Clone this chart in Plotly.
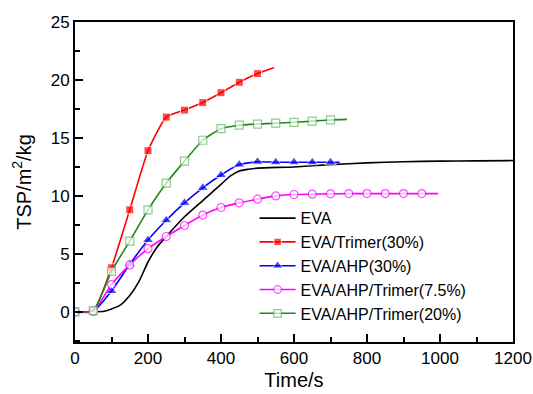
import plotly.graph_objects as go

# EVA
eva_x = [0, 50, 80, 100, 125, 150, 175, 200, 225, 250, 300, 350, 400, 425, 450, 475, 500, 600, 700, 800, 900, 1000, 1100, 1200]
eva_y = [0, 0, 0.05, 0.25, 0.6, 1.4, 2.6, 4.3, 5.6, 6.5, 8.2, 9.6, 11.0, 11.7, 12.15, 12.3, 12.4, 12.5, 12.7, 12.85, 12.95, 13.0, 13.02, 13.05]

# EVA/Trimer(30%)
tri_x = [0, 50, 100, 150, 200, 250, 300, 350, 400, 450, 500, 545]
tri_y = [0, 0.05, 3.8, 8.8, 13.9, 16.8, 17.4, 18.05, 18.9, 19.8, 20.55, 21.05]

# EVA/AHP(30%)
ahp_x = [0, 50, 100, 150, 200, 250, 300, 350, 400, 450, 500, 550, 600, 650, 700, 725]
ahp_y = [0, 0.05, 1.8, 4.1, 6.2, 7.9, 9.4, 10.7, 11.8, 12.7, 12.95, 12.9, 12.9, 12.9, 12.9, 12.9]

# EVA/AHP/Trimer(7.5%)
t75_x = [0, 50, 100, 150, 200, 250, 300, 350, 400, 450, 500, 550, 600, 650, 700, 750, 800, 850, 900, 950, 995]
t75_y = [0, 0.05, 2.35, 4.05, 5.45, 6.5, 7.45, 8.35, 9.0, 9.4, 9.72, 10.0, 10.12, 10.15, 10.18, 10.2, 10.2, 10.2, 10.2, 10.2, 10.2]

# EVA/AHP/Trimer(20%)
t20_x = [0, 50, 100, 150, 200, 250, 300, 350, 400, 450, 500, 550, 600, 650, 700, 745]
t20_y = [0, 0.1, 3.5, 6.1, 8.8, 11.1, 13.0, 14.8, 15.8, 16.1, 16.2, 16.27, 16.35, 16.45, 16.55, 16.6]

x_ticks = [0, 200, 400, 600, 800, 1000, 1200]
y_ticks = [0, 5, 10, 15, 20, 25]

FONT = "Liberation Sans, Arial, sans-serif"

def sizes(n, s):
    return [s] * (n - 1) + [0]

fig = go.Figure()
fig.add_trace(go.Scatter(x=eva_x, y=eva_y, mode="lines", name="EVA",
                         line=dict(color="black", width=1.6, shape="spline", smoothing=0.6)))
fig.add_trace(go.Scatter(x=tri_x, y=tri_y, mode="lines+markers", name="EVA/Trimer(30%)",
                         line=dict(color="#ff0000", width=1.6, shape="spline", smoothing=0.5),
                         marker=dict(symbol="square", size=sizes(len(tri_x), 8), color="#ff0000")))
fig.add_trace(go.Scatter(x=ahp_x, y=ahp_y, mode="lines+markers", name="EVA/AHP(30%)",
                         line=dict(color="#0000ff", width=1.6, shape="spline", smoothing=0.5),
                         marker=dict(symbol="triangle-up", size=sizes(len(ahp_x), 10), color="#0000ff")))
fig.add_trace(go.Scatter(x=t75_x, y=t75_y, mode="lines+markers", name="EVA/AHP/Trimer(7.5%)",
                         line=dict(color="#ff00ff", width=1.6, shape="spline", smoothing=0.5),
                         marker=dict(symbol="circle", size=sizes(len(t75_x), 8), color="white",
                                     line=dict(color="#ff00ff", width=1.2))))
fig.add_trace(go.Scatter(x=t20_x, y=t20_y, mode="lines+markers", name="EVA/AHP/Trimer(20%)",
                         line=dict(color="#1a8a1a", width=1.6, shape="spline", smoothing=0.5),
                         marker=dict(symbol="square", size=sizes(len(t20_x), 8), color="white",
                                     line=dict(color="#5cb85c", width=1.2))))

axis_common = dict(showline=True, linecolor="black", linewidth=2, mirror=True,
                   ticks="inside", ticklen=8, tickwidth=2, tickcolor="black",
                   showgrid=False, zeroline=False, automargin=False,
                   ticklabeloverflow="allow",
                   tickfont=dict(family=FONT, size=17, color="black"))

fig.update_xaxes(range=[0, 1200], tickvals=x_ticks,
                 minor=dict(ticks="inside", ticklen=5, tickwidth=2, tickcolor="black", dtick=100, tick0=0, showgrid=False),
                 title=dict(text="Time/s", font=dict(family=FONT, size=20, color="black"), standoff=6),
                 **axis_common)
fig.update_yaxes(range=[-2.6, 25], tickvals=y_ticks,
                 minor=dict(ticks="inside", ticklen=5, tickwidth=2, tickcolor="black", dtick=2.5, tick0=0, showgrid=False),
                 title=dict(text="TSP/m<sup>2</sup>/kg", font=dict(family=FONT, size=20, color="black"), standoff=14),
                 **axis_common)

fig.update_layout(
    width=533, height=394,
    margin=dict(l=75, r=20, t=22, b=52),
    paper_bgcolor="white", plot_bgcolor="white",
    showlegend=True,
    legend=dict(x=0.41, y=0.44, xanchor="left", yanchor="top",
                bgcolor="rgba(0,0,0,0)", borderwidth=0,
                font=dict(family=FONT, size=16, color="black"),
                itemwidth=36, tracegroupgap=0),
)

fig.write_html("out.html")
